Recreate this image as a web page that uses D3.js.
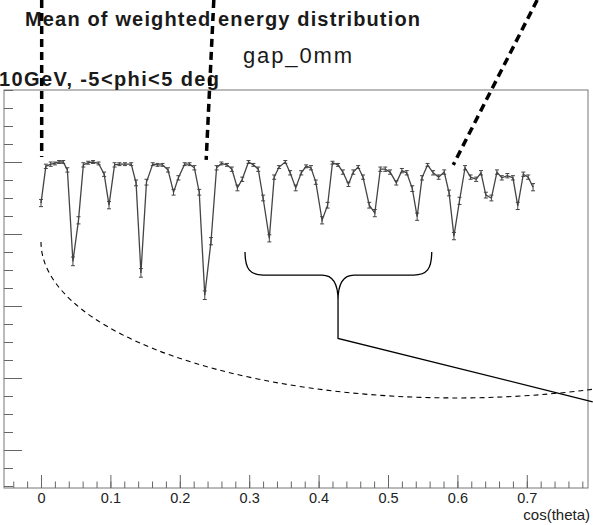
<!DOCTYPE html>
<html>
<head>
<meta charset="utf-8">
<script src="https://cdn.jsdelivr.net/npm/d3@7/dist/d3.min.js"></script>
<style>
  body { margin: 0; background: #fff; }
  svg { display: block; font-family: "Liberation Sans", Arial, sans-serif; }
</style>
</head>
<body>
<div id="chart"></div>
<script>
// cos(theta) of each bin
const cosTheta = [
  0.000, 0.007, 0.014, 0.020, 0.026, 0.032, 0.038, 0.046, 0.054, 0.061,
  0.068, 0.075, 0.083, 0.091, 0.098, 0.106, 0.113, 0.121, 0.130, 0.137,
  0.144, 0.152, 0.161, 0.168, 0.175, 0.183, 0.191, 0.198, 0.207, 0.214,
  0.221, 0.228, 0.236, 0.245, 0.253, 0.260, 0.268, 0.275, 0.283, 0.290,
  0.299, 0.306, 0.313, 0.320, 0.329, 0.336, 0.343, 0.352, 0.359, 0.367,
  0.375, 0.382, 0.389, 0.396, 0.405, 0.413, 0.420, 0.428, 0.435, 0.443,
  0.450, 0.457, 0.464, 0.473, 0.481, 0.489, 0.496, 0.503, 0.512, 0.520,
  0.527, 0.535, 0.542, 0.549, 0.557, 0.565, 0.573, 0.581, 0.588, 0.595,
  0.603, 0.611, 0.619, 0.627, 0.634, 0.641, 0.649, 0.657, 0.664, 0.672,
  0.680, 0.687, 0.695, 0.702, 0.709
];
// mean of weighted energy (axis labels are off the picture, units arbitrary)
const meanE = [
  0.843, 0.894, 0.897, 0.898, 0.900, 0.900, 0.889, 0.762, 0.819, 0.896,
  0.899, 0.900, 0.898, 0.883, 0.840, 0.896, 0.897, 0.897, 0.897, 0.871,
  0.746, 0.872, 0.897, 0.896, 0.896, 0.889, 0.858, 0.878, 0.897, 0.897,
  0.892, 0.858, 0.715, 0.790, 0.892, 0.898, 0.896, 0.890, 0.864, 0.876,
  0.900, 0.896, 0.890, 0.850, 0.794, 0.879, 0.893, 0.900, 0.885, 0.864,
  0.885, 0.894, 0.892, 0.872, 0.819, 0.840, 0.899, 0.896, 0.886, 0.869,
  0.886, 0.893, 0.879, 0.840, 0.829, 0.890, 0.890, 0.886, 0.871, 0.888,
  0.885, 0.863, 0.824, 0.878, 0.896, 0.885, 0.879, 0.886, 0.857, 0.797,
  0.846, 0.892, 0.879, 0.876, 0.885, 0.854, 0.850, 0.886, 0.878, 0.881,
  0.878, 0.839, 0.883, 0.879, 0.865
];
const meanErr = [
  0.005, 0.003, 0.003, 0.002, 0.002, 0.002, 0.003, 0.006, 0.005, 0.003,
  0.002, 0.002, 0.002, 0.003, 0.005, 0.003, 0.002, 0.002, 0.002, 0.004,
  0.006, 0.004, 0.002, 0.002, 0.002, 0.003, 0.004, 0.003, 0.002, 0.002,
  0.003, 0.004, 0.006, 0.005, 0.003, 0.002, 0.002, 0.003, 0.004, 0.003,
  0.002, 0.002, 0.003, 0.004, 0.005, 0.003, 0.002, 0.002, 0.003, 0.004,
  0.003, 0.002, 0.003, 0.003, 0.005, 0.004, 0.002, 0.002, 0.003, 0.003,
  0.003, 0.002, 0.003, 0.004, 0.005, 0.003, 0.003, 0.003, 0.003, 0.003,
  0.003, 0.004, 0.005, 0.003, 0.002, 0.003, 0.003, 0.003, 0.004, 0.005,
  0.005, 0.003, 0.003, 0.003, 0.003, 0.004, 0.004, 0.003, 0.003, 0.003,
  0.003, 0.005, 0.003, 0.003, 0.005
];
const xTickLabels = [0, 0.1, 0.2, 0.3, 0.4, 0.5, 0.6, 0.7];

const titleText = "Mean of weighted energy distribution";
const gapText = "gap_0mm";
const condText = "10GeV, -5<phi<5 deg";
const xTitle = "cos(theta)";

const width = 593, height = 525;
const frame = { left: 4, top: 90, right: 588, bottom: 488 };

const svg = d3.select("#chart").append("svg")
  .attr("width", width)
  .attr("height", height);

const x = d3.scaleLinear()
  .domain([(frame.left - 41) / 694, (frame.right - 41) / 694])
  .range([frame.left, frame.right]);

const y = d3.scaleLinear()
  .domain([1 - (frame.bottom - frame.top) / 720, 1.0])
  .range([frame.bottom, frame.top]);

// frame
svg.append("rect")
  .attr("x", frame.left).attr("y", frame.top)
  .attr("width", frame.right - frame.left)
  .attr("height", frame.bottom - frame.top)
  .attr("fill", "none").attr("stroke", "#777").attr("stroke-width", 1);

// y ticks (labels lie off the picture)
const yMinor = d3.range(0.45, 1.001, 0.025);
svg.append("g")
  .attr("transform", `translate(${frame.left},0)`)
  .call(d3.axisRight(y).tickValues(yMinor).tickSize(9).tickFormat(""))
  .call(g => g.select(".domain").remove());
svg.append("g")
  .attr("transform", `translate(${frame.left},0)`)
  .call(d3.axisRight(y).tickValues([0.5, 0.6, 0.7, 0.8, 0.9]).tickSize(18).tickFormat(""))
  .call(g => g.select(".domain").remove());

// x ticks
const xMinor = d3.range(-0.04, 0.781, 0.02);
svg.append("g")
  .attr("transform", `translate(0,${frame.bottom})`)
  .call(d3.axisTop(x).tickValues(xMinor).tickSize(6.5).tickFormat(""))
  .call(g => g.select(".domain").remove());
svg.append("g")
  .attr("transform", `translate(0,${frame.bottom})`)
  .call(d3.axisTop(x).tickValues(xTickLabels).tickSize(13).tickFormat(""))
  .call(g => g.select(".domain").remove());
svg.selectAll(".tick line").attr("stroke", "#666");

// x labels
svg.append("g")
  .attr("transform", `translate(0,${frame.bottom})`)
  .call(d3.axisBottom(x).tickValues(xTickLabels).tickSize(0).tickPadding(5)
    .tickFormat(d => d === 0 ? "0" : d3.format(".1f")(d)))
  .call(g => g.select(".domain").remove())
  .call(g => g.selectAll("text")
    .attr("font-size", 14.5)
    .attr("font-family", "Liberation Sans, Arial, sans-serif")
    .attr("fill", "#222"));

svg.append("text")
  .attr("x", 590).attr("y", 520)
  .attr("text-anchor", "end")
  .attr("font-size", 15)
  .attr("fill", "#222")
  .text(xTitle);

// data line
const pts = cosTheta.map((c, i) => ({ c, v: meanE[i], e: meanErr[i] }));
svg.append("path")
  .datum(pts)
  .attr("fill", "none")
  .attr("stroke", "#444")
  .attr("stroke-width", 1.3)
  .attr("d", d3.line().x(d => x(d.c)).y(d => y(d.v)));

const eb = svg.append("g").attr("stroke", "#444").attr("stroke-width", 1);
eb.selectAll(".err")
  .data(pts).join("line")
  .attr("x1", d => x(d.c)).attr("x2", d => x(d.c))
  .attr("y1", d => y(d.v - d.e)).attr("y2", d => y(d.v + d.e));
eb.selectAll(".capHi")
  .data(pts).join("line").attr("class", "capHi")
  .attr("x1", d => x(d.c) - 2).attr("x2", d => x(d.c) + 2)
  .attr("y1", d => y(d.v + d.e)).attr("y2", d => y(d.v + d.e));
eb.selectAll(".capLo")
  .data(pts).join("line").attr("class", "capLo")
  .attr("x1", d => x(d.c) - 2).attr("x2", d => x(d.c) + 2)
  .attr("y1", d => y(d.v - d.e)).attr("y2", d => y(d.v - d.e));

// titles
svg.append("text")
  .attr("x", 25).attr("y", 26)
  .attr("font-size", 20).attr("font-weight", "bold").attr("fill", "#1a1a1a")
  .attr("textLength", 395)
  .text(titleText);
svg.append("text")
  .attr("x", 243).attr("y", 63)
  .attr("font-size", 22).attr("fill", "#1a1a1a")
  .attr("textLength", 109)
  .text(gapText);
svg.append("text")
  .attr("x", -1).attr("y", 86)
  .attr("font-size", 20).attr("font-weight", "bold").attr("fill", "#1a1a1a")
  .attr("textLength", 220)
  .text(condText);

// annotations, given in data units
const thickDashes = [
  [[0.001, 1.125], [0.001, 0.907]],
  [[0.249, 1.125], [0.238, 0.903]],
  [[0.715, 1.125], [0.594, 0.896]]
];
svg.append("g")
  .selectAll("line")
  .data(thickDashes).join("line")
  .attr("x1", d => x(d[0][0])).attr("y1", d => y(d[0][1]))
  .attr("x2", d => x(d[1][0])).attr("y2", d => y(d[1][1]))
  .attr("stroke", "#000").attr("stroke-width", 3.5)
  .attr("stroke-dasharray", "8,5");

// curly brace + pointer
const brace = { x0: 0.294, x1: 0.563, xm: 0.428, yTop: 0.775, yMid: 0.743, yTip: 0.708, yStem: 0.655 };
const bx0 = x(brace.x0), bx1 = x(brace.x1), bxm = x(brace.xm);
const byT = y(brace.yTop), byM = y(brace.yMid), byP = y(brace.yTip);
const bp = d3.path();
bp.moveTo(bx0, byT);
bp.bezierCurveTo(bx0, byM - 6, bx0 + 5, byM, bx0 + 18, byM);
bp.lineTo(bxm - 16, byM);
bp.bezierCurveTo(bxm - 4, byM, bxm, byM + 10, bxm, byP);
bp.bezierCurveTo(bxm, byM + 10, bxm + 4, byM, bxm + 16, byM);
bp.lineTo(bx1 - 18, byM);
bp.bezierCurveTo(bx1 - 5, byM, bx1, byM - 6, bx1, byT);
bp.moveTo(bxm, byP);
bp.lineTo(bxm, y(brace.yStem));
bp.lineTo(x(0.795), y(0.567));
svg.append("path")
  .attr("d", bp.toString())
  .attr("fill", "none").attr("stroke", "#000").attr("stroke-width", 1.3);

// thin dashed elliptical arc
const ell = { cx: 0.598, cy: 0.789, ry: 0.2167 };
const rx = x(ell.cx) - x(0), ry = y(ell.cy - ell.ry) - y(ell.cy);
const endX = x(0.795);
const endY = y(ell.cy) + ry * Math.sqrt(1 - Math.pow((endX - x(ell.cx)) / rx, 2));
svg.append("path")
  .attr("d", `M${x(0)},${y(ell.cy)} A${rx},${ry} 0 0 0 ${endX},${endY}`)
  .attr("fill", "none").attr("stroke", "#000").attr("stroke-width", 1.1)
  .attr("stroke-dasharray", "5,4");
</script>
</body>
</html>
